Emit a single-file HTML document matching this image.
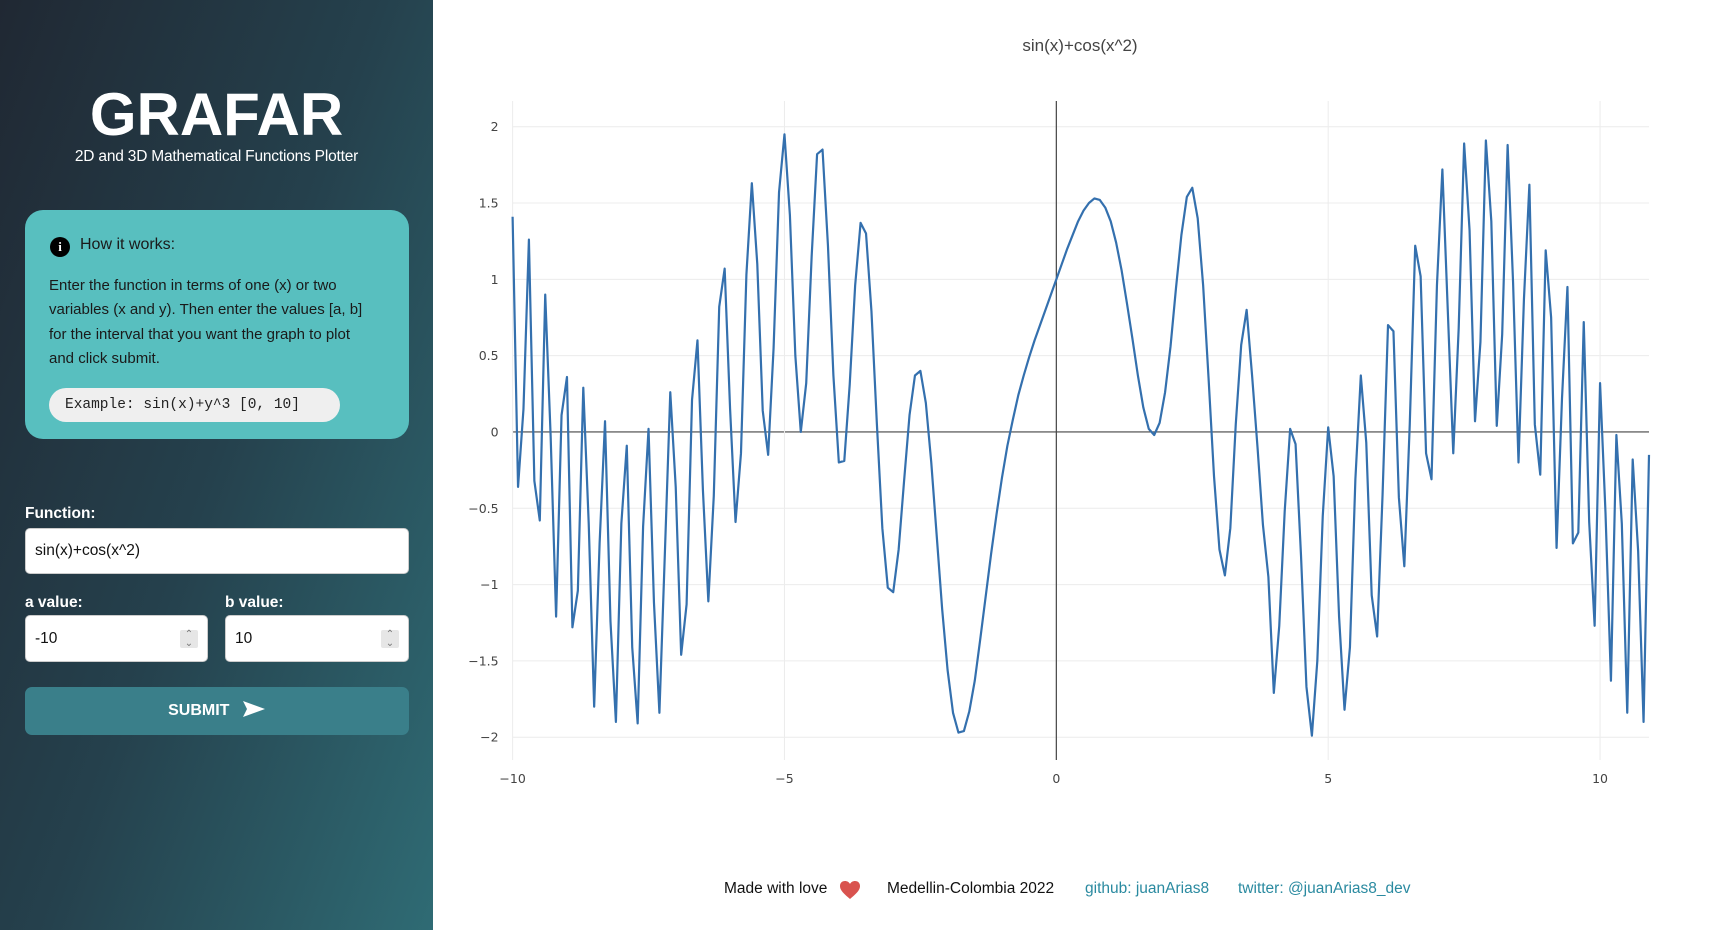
<!DOCTYPE html>
<html><head><meta charset="utf-8"><style>
*{box-sizing:border-box;margin:0;padding:0}
body{width:1728px;height:930px;overflow:hidden;background:#fff;font-family:"Liberation Sans",sans-serif;position:relative}
#side{position:absolute;left:0;top:0;width:433px;height:930px;background:linear-gradient(110deg,#202833 0%,#25414d 50%,#2f6b74 100%);color:#fff}
.abs{position:absolute}
#title{left:0;width:433px;top:80px;text-align:center;font-size:60px;font-weight:bold;letter-spacing:0px}
#sub{left:0;width:433px;top:148px;text-align:center;font-size:15.5px;letter-spacing:-0.2px}
#card{left:25px;top:210px;width:384px;height:229px;background:#58bfbf;border-radius:18px;color:#1a1a1a}
#card .h{position:absolute;left:55px;top:26px;font-size:16px}
#card .ic{position:absolute;left:25px;top:27px;width:20px;height:20px;border-radius:50%;background:#000;color:#fff;font-size:13px;font-weight:bold;text-align:center;line-height:20px;font-family:"Liberation Serif",serif}
#card p{position:absolute;left:24px;top:64px;width:360px;font-size:15px;line-height:24.3px;white-space:nowrap}
#pill{position:absolute;left:24px;top:178px;width:291px;height:34px;border-radius:17px;background:#efefef;font-family:"Liberation Mono",monospace;font-size:14.5px;line-height:34px;padding-left:16px;color:#222}
.lbl{font-size:15.5px;font-weight:bold}
.inp{background:#fff;border:1px solid #ccc;border-radius:5px;color:#111;font-size:15.5px;padding-left:9px}
.spin{position:absolute;right:9px;top:14px;width:18px;height:18px;background:#e6e6e6;border-radius:2px;color:#777;font-size:10px;text-align:center;line-height:9px}
#submit{left:25px;top:687px;width:384px;height:48px;background:#3a7f8a;border-radius:7px;text-align:center;line-height:48px;font-size:16px;font-weight:bold}
.foot{top:880px;font-size:15.5px;color:#111}
.lnk{color:#2a8aa0}
</style></head><body>
<div id="side">
 <div class="abs" id="title">GRAFAR</div>
 <div class="abs" id="sub">2D and 3D Mathematical Functions Plotter</div>
 <div class="abs" id="card">
  <div class="ic">i</div>
  <div class="h">How it works:</div>
  <p>Enter the function in terms of one (x) or two<br>variables (x and y). Then enter the values [a, b]<br>for the interval that you want the graph to plot<br>and click submit.</p>
  <div id="pill">Example: sin(x)+y^3 [0, 10]</div>
 </div>
 <div class="abs lbl" style="left:25px;top:505px">Function:</div>
 <div class="abs inp" style="left:25px;top:528px;width:384px;height:46px;line-height:44px">sin(x)+cos(x^2)</div>
 <div class="abs lbl" style="left:25px;top:594px">a value:</div>
 <div class="abs lbl" style="left:225px;top:594px">b value:</div>
 <div class="abs inp" style="left:25px;top:615px;width:183px;height:47px;line-height:45px">-10<div class="spin">⌃<br>⌄</div></div>
 <div class="abs inp" style="left:225px;top:615px;width:184px;height:47px;line-height:45px">10<div class="spin">⌃<br>⌄</div></div>
 <div class="abs" id="submit">SUBMIT <svg width="24" height="18" viewBox="0 0 24 18" style="vertical-align:-3px;margin-left:8px"><path d="M1 1 L23 9 L1 17 L5 9 Z" fill="#fff"/></svg></div>
</div>

<svg id="chart" class="abs" style="left:433px;top:0" width="1295" height="860"></svg>

<div class="abs foot" style="left:724px">Made with love</div>
<svg class="abs" style="left:839px;top:880px" width="22" height="20" viewBox="0 0 22 20"><path d="M11 19 C4 13 1 10 1 6 C1 3 3 1 6 1 C8 1 10 2 11 4 C12 2 14 1 16 1 C19 1 21 3 21 6 C21 10 18 13 11 19Z" fill="#d9534f"/></svg>
<div class="abs foot" style="left:887px">Medellin-Colombia 2022</div>
<div class="abs lnk" style="left:1085px;top:880px;font-size:15.5px">github: juanArias8</div>
<div class="abs lnk" style="left:1238px;top:880px;font-size:15.5px">twitter: @juanArias8_dev</div>

<script>
const xStart = -10;
const xStep = 0.1;
const yValues = [1.41,-0.36,0.15,1.26,-0.32,-0.58,0.90,-0.03,-1.21,0.11,0.36,-1.28,-1.04,0.29,-0.60,-1.80,-0.73,0.07,-1.24,-1.90,
-0.60,-0.09,-1.41,-1.91,-0.62,0.02,-1.12,-1.84,-0.80,0.26,-0.36,-1.46,-1.13,0.21,0.60,-0.38,-1.11,-0.42,0.82,1.07,
0.15,-0.59,-0.14,1.03,1.63,1.10,0.14,-0.15,0.55,1.57,1.95,1.42,0.50,0.00,0.32,1.15,1.82,1.85,1.22,0.37,
-0.20,-0.19,0.31,0.96,1.37,1.30,0.79,0.05,-0.63,-1.02,-1.05,-0.77,-0.32,0.11,0.37,0.40,0.19,-0.20,-0.68,-1.16,
-1.56,-1.84,-1.97,-1.96,-1.83,-1.63,-1.36,-1.08,-0.80,-0.54,-0.30,-0.09,0.08,0.24,0.37,0.49,0.60,0.70,0.80,0.90,
1.00,1.10,1.20,1.29,1.38,1.45,1.50,1.53,1.52,1.47,1.38,1.24,1.06,0.84,0.61,0.37,0.16,0.02,-0.02,0.06,
0.26,0.56,0.94,1.29,1.54,1.60,1.40,0.96,0.35,-0.29,-0.77,-0.94,-0.63,0.05,0.57,0.80,0.37,-0.10,-0.61,-0.95,
-1.71,-1.27,-0.52,0.02,-0.08,-0.81,-1.67,-1.99,-1.50,-0.55,0.03,-0.29,-1.21,-1.82,-1.41,-0.31,0.37,-0.07,-1.07,-1.34,
-0.41,0.70,0.66,-0.43,-0.88,0.05,1.22,1.02,-0.14,-0.31,0.96,1.72,0.79,-0.14,0.68,1.89,1.32,0.07,0.59,1.91,
1.38,0.04,0.64,1.88,0.98,-0.20,0.87,1.62,0.05,-0.28,1.19,0.75,-0.76,0.22,0.95,-0.73,-0.66,0.72,-0.59,-1.27,
0.32,-0.53,-1.63,-0.02,-0.60,-1.84,-0.18,-0.78,-1.90,-0.15];
const xTicks = [-10,-5,0,5,10];
const xTickLabels = ["\u221210","\u22125","0","5","10"];
const yTicks = [-2,-1.5,-1,-0.5,0,0.5,1,1.5,2];
const yTickLabels = ["\u22122","\u22121.5","\u22121","\u22120.5","0","0.5","1","1.5","2"];
const chartTitle = "sin(x)+cos(x^2)";

const svg = document.getElementById('chart');
const NS = 'http://www.w3.org/2000/svg';
const L = 79.6, R = 1216, T = 101, B = 760;
const xMin = -10, xMax = xStart + xStep*(yValues.length-1);
function X(v){ return L + (v - xMin) / (xMax - xMin) * (R - L); }
function Y(v){ return 126.7 + (2 - v) / 4 * (737.2 - 126.7); }
function mk(tag, attrs){ const e=document.createElementNS(NS,tag); for(const k in attrs) e.setAttribute(k,attrs[k]); svg.appendChild(e); return e; }

const t = mk('text',{x:647,y:51,'text-anchor':'middle','font-size':'17','fill':'#444','font-family':'Liberation Sans, sans-serif'});
t.textContent = chartTitle;



yTicks.forEach((v,i)=>{
  const g = mk('line',{x1:L,x2:R,y1:Y(v),y2:Y(v),stroke: v===0?'#444':'#ececec','stroke-width':v===0?1.2:1});
  
  
  const lb = mk('text',{x:L-14,y:Y(v)+4.5,'text-anchor':'end','font-size':'12.5','fill':'#444','font-family':'DejaVu Sans, sans-serif'});
  lb.textContent = yTickLabels[i];
  
  
});
xTicks.forEach((v,i)=>{
  const g = mk('line',{x1:X(v),x2:X(v),y1:T,y2:B,stroke: v===0?'#444':'#ececec','stroke-width':v===0?1.2:1});
  
  
  const lb = mk('text',{x:X(v),y:783,'text-anchor':'middle','font-size':'12.5','fill':'#444','font-family':'DejaVu Sans, sans-serif'});
  lb.textContent = xTickLabels[i];
  
  
});
const pts = yValues.map((v,i)=>X(xStart + i*xStep).toFixed(2)+','+Y(v).toFixed(2)).join(' ');
const line = mk('polyline',{points:pts,fill:'none',stroke:'#3470ae','stroke-width':2.2,'stroke-linejoin':'round'});


</script>
</body></html>
